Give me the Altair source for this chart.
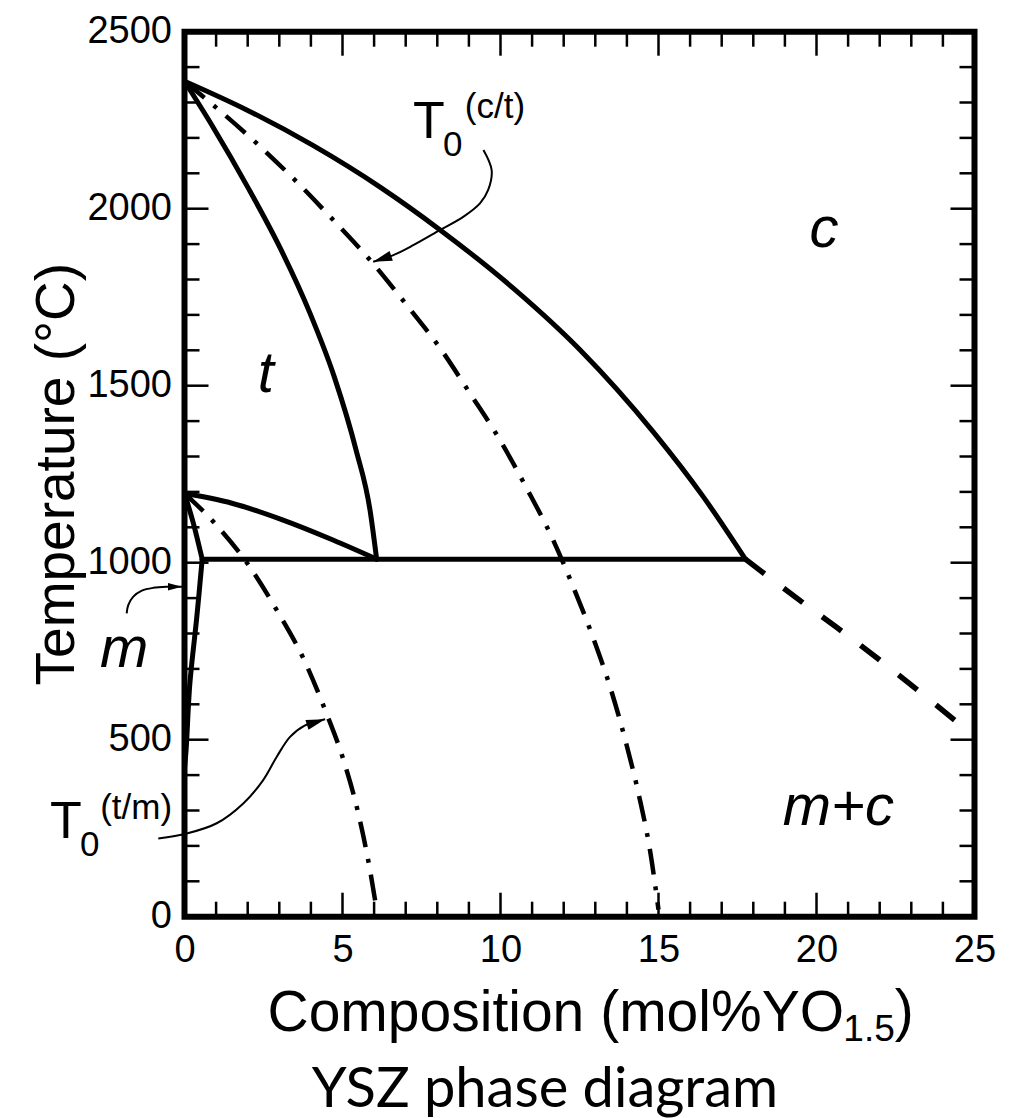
import math
import altair as alt
import pandas as pd

# ---------------- data ----------------
X_LABELS = [0, 5, 10, 15, 20, 25]
T_LABELS = [0, 500, 1000, 1500, 2000, 2500]
X_MAJOR = [5, 10, 15, 20]
X_MINOR = [1, 2, 3, 4, 6, 7, 8, 9, 11, 12, 13, 14, 16, 17, 18, 19, 21, 22, 23, 24]
T_MAJOR = [500, 1000, 1500, 2000]
T_MINOR = [100, 200, 300, 400, 600, 700, 800, 900, 1100, 1200, 1300, 1400,
           1600, 1700, 1800, 1900, 2100, 2200, 2300, 2400]

# c / (t+c) boundary
OUTER_X = [0.0, 1.97, 4.08, 6.19, 8.09, 10.41, 12.52, 14.84, 16.42, 17.75]
OUTER_T = [2360, 2279, 2178, 2061, 1940, 1775, 1601, 1369, 1186, 1010]
# t / (t+c) boundary
INNER_X = [0.0, 0.90, 2.00, 3.01, 3.97, 4.74, 5.43, 5.87, 6.08]
INNER_T = [2360, 2231, 2061, 1892, 1705, 1525, 1318, 1149, 1010]
# t / (m+t) upper boundary
TM_X = [0.0, 1.5, 3.1, 4.7, 6.08]
TM_T = [1196, 1168, 1121, 1064, 1010]
# eutectoid horizontal
EUT_X = [0.56, 17.75]
EUT_T = [1010, 1010]
# monoclinic boundary (upper and lower parts)
MUP_X = [0.0, 0.3, 0.56]
MUP_T = [1196, 1105, 1010]
MLOW_X = [0.56, 0.39, 0.17, 0.05, 0.0]
MLOW_T = [1010, 847, 659, 471, 420]
# m / (m+c) dashed extrapolation
DASH_X = [17.75, 19.6, 20.75, 22.0, 23.2, 24.5]
DASH_T = [1010, 885, 810, 725, 640, 546]
# T0 lines (dash-dot)
T0CT_X = [0.0, 2.28, 3.55, 4.76, 5.92, 7.03, 8.09, 9.03, 9.98, 10.83, 11.62,
          12.30, 12.94, 13.50, 13.97, 14.39, 14.73, 15.0]
T0CT_T = [2360, 2185, 2076, 1963, 1850, 1728, 1606, 1479, 1347, 1210, 1073,
          932, 786, 640, 492, 339, 188, 20]
T0TM_X = [0.0, 0.91, 2.02, 2.92, 3.76, 4.45, 5.03, 5.50, 5.87, 6.08]
T0TM_T = [1196, 1116, 994, 866, 730, 584, 443, 292, 132, 20]

# annotation arrows
ARROW_CT_X = [9.46, 9.72, 9.61, 9.35, 8.82, 8.09, 7.24, 6.61, 5.97]
ARROW_CT_T = [2166, 2109, 2053, 2015, 1977, 1940, 1897, 1869, 1850]
ARROW_M_X = [-1.83, -1.78, -1.62, -1.35, -0.99, -0.56, -0.08]
ARROW_M_T = [857, 880, 904, 921, 929, 932, 932]
ARROW_TM_X = [-0.83, 0.07, 1.02, 1.86, 2.49, 2.92, 3.34, 3.80, 4.45]
ARROW_TM_T = [221, 235, 264, 320, 386, 452, 508, 540, 558]

# text labels
PHASE_TEXT = ["t", "c", "m", "m+c"]
PHASE_X = [2.57, 20.24, -1.91, 20.69]
PHASE_T = [1483, 1893, 706, 259]
T0_MAIN_TEXT = ["T", "T"]
T0_MAIN_X = [7.23, -4.26]
T0_MAIN_T = [2200, 221]
T0_SMALL_TEXT = ["0", "(c/t)", "0", "(t/m)"]
T0_SMALL_X = [8.18, 8.87, -3.31, -2.67]
T0_SMALL_T = [2149, 2255, 171, 277]
# tail of the x-axis title: subscript "1.5" and closing parenthesis
XT_SUB_TEXT = ["1.5"]
XT_SUB_X = [20.85]
XT_SUB_T = [-350]
XT_END_TEXT = [")"]
XT_END_X = [22.48]
XT_END_T = [-321]

CAPTION = "YSZ phase diagram"
X_TITLE = "Composition (mol%YO"
Y_TITLE = "Temperature (\u00b0C)"

# ---------------- chart ----------------
W, H = 790, 885
FONT = "Liberation Sans"
XS = alt.Scale(domain=[0, 25], nice=False, zero=False)
YS = alt.Scale(domain=[0, 2500], nice=False, zero=False)

XA = alt.Axis(values=X_LABELS, title=X_TITLE, grid=False, domain=False,
              ticks=False, tickSize=0, labelFont=FONT, labelFontSize=38,
              labelColor="black", labelPadding=15, labelFlush=False,
              labelOverlap=False, labelAngle=0, format="d",
              titleFont=FONT, titleFontSize=57, titleFontWeight="normal",
              titleColor="black", titleX=82.5, titleY=113.8,
              titleAlign="left", titleBaseline="alphabetic", titleAngle=0)
YA = alt.Axis(values=T_LABELS, title=Y_TITLE, grid=False, domain=False,
              ticks=False, tickSize=0, labelFont=FONT, labelFontSize=38,
              labelColor="black", labelPadding=13, labelFlush=False,
              labelOverlap=False, format="d",
              titleFont=FONT, titleFontSize=55,
              titleFontWeight="normal", titleColor="black",
              titleX=-111, titleY=442, titleAlign="center",
              titleBaseline="alphabetic", titleAngle=270)


def X(field="x"):
    return alt.X(f"{field}:Q", scale=XS, axis=XA)


def Y(field="T"):
    return alt.Y(f"{field}:Q", scale=YS, axis=YA)


def curve_df(xs, ts, name):
    return pd.DataFrame({"x": xs, "T": ts, "curve": name, "ord": list(range(len(xs)))})


def line_layer(df, width, dash=None, cap="round", interp="monotone"):
    kw = dict(color="black", strokeWidth=width, interpolate=interp,
              strokeCap=cap, strokeJoin="round")
    if dash:
        kw["strokeDash"] = dash
    return alt.Chart(df).mark_line(**kw).encode(
        x=X(), y=Y(), detail="curve:N", order="ord:Q")


def side_ticks(vals, orient, length):
    df = pd.DataFrame({"v": vals})
    base = alt.Chart(df).mark_rule(color="black", strokeWidth=2.5)
    if orient == "left":
        return base.encode(y=Y("v"), x=alt.value(0), x2=alt.value(length))
    if orient == "right":
        return base.encode(y=Y("v"), x=alt.value(W - length), x2=alt.value(W))
    if orient == "top":
        return base.encode(x=X("v"), y=alt.value(0), y2=alt.value(length))
    return base.encode(x=X("v"), y=alt.value(H - length), y2=alt.value(H))


def text_layer(xs, ts, texts, size, align="left", italic=False):
    df = pd.DataFrame({"x": xs, "T": ts, "label": texts})
    kw = dict(font=FONT, fontSize=size, align=align, baseline="alphabetic", color="black")
    if italic:
        kw["fontStyle"] = "italic"
    return alt.Chart(df).mark_text(**kw).encode(x=X(), y=Y(), text="label:N")


layers = []
solid = pd.concat([
    curve_df(OUTER_X, OUTER_T, "outer"),
    curve_df(INNER_X, INNER_T, "inner"),
    curve_df(TM_X, TM_T, "tm"),
    curve_df(EUT_X, EUT_T, "eut"),
    curve_df(MUP_X, MUP_T, "mup"),
])
layers.append(line_layer(solid, 5))
layers.append(line_layer(curve_df(MLOW_X, MLOW_T, "mlow"), 5, interp="catmull-rom"))
layers.append(line_layer(curve_df(DASH_X, DASH_T, "dash"), 5.5, dash=[24, 24], cap="butt"))
dashdot = pd.concat([curve_df(T0CT_X, T0CT_T, "t0ct"), curve_df(T0TM_X, T0TM_T, "t0tm")])
layers.append(line_layer(dashdot, 4.5, dash=[26, 12, 4, 12], cap="butt"))

# inward ticks on all four sides
for orient in ["left", "right"]:
    layers.append(side_ticks(T_MINOR, orient, 15))
    layers.append(side_ticks(T_MAJOR, orient, 24))
for orient in ["top", "bottom"]:
    layers.append(side_ticks(X_MINOR, orient, 15))
    layers.append(side_ticks(X_MAJOR, orient, 24))

# annotation arrows
arrows = pd.concat([
    curve_df(ARROW_CT_X, ARROW_CT_T, "a_ct"),
    curve_df(ARROW_M_X, ARROW_M_T, "a_m"),
    curve_df(ARROW_TM_X, ARROW_TM_T, "a_tm"),
])
layers.append(line_layer(arrows, 2, cap="butt", interp="catmull-rom"))

HEAD_LEN = {"a_ct": 19, "a_m": 14, "a_tm": 19}
heads = []
for name, xs, ts in [("a_ct", ARROW_CT_X, ARROW_CT_T),
                     ("a_m", ARROW_M_X, ARROW_M_T),
                     ("a_tm", ARROW_TM_X, ARROW_TM_T)]:
    dx = (xs[-1] - xs[-2]) * W / 25.0
    dy = -(ts[-1] - ts[-2]) * H / 2500.0
    ang = math.degrees(math.atan2(dy, dx)) % 360
    heads.append({"x": xs[-1], "T": ts[-1], "angle": ang, "sz": (2 * HEAD_LEN[name]) ** 2})
layers.append(
    alt.Chart(pd.DataFrame(heads)).mark_point(
        shape="M0,0L-1,-0.27L-1,0.27Z", filled=True, color="black", opacity=1, strokeWidth=0
    ).encode(
        x=X(), y=Y(),
        angle=alt.Angle("angle:Q", scale=None),
        size=alt.Size("sz:Q", scale=None),
    )
)

# text labels
layers.append(text_layer(PHASE_X, PHASE_T, PHASE_TEXT, 58, align="center", italic=True))
layers.append(text_layer(T0_MAIN_X, T0_MAIN_T, T0_MAIN_TEXT, 52))
layers.append(text_layer(T0_SMALL_X, T0_SMALL_T, T0_SMALL_TEXT, 35))
layers.append(text_layer(XT_SUB_X, XT_SUB_T, XT_SUB_TEXT, 37))
layers.append(text_layer(XT_END_X, XT_END_T, XT_END_TEXT, 57))

chart = alt.layer(*layers).properties(
    width=W,
    height=H,
    background="white",
    autosize=alt.AutoSizeParams(type="none"),
    padding={"left": 184.5, "top": 31.7, "right": 45.5, "bottom": 201.3},
    title=alt.TitleParams(CAPTION, orient="bottom", anchor="middle", frame="group",
                          font="Lato", fontSize=56, fontWeight="normal", color="black",
                          baseline="alphabetic", offset=59, dx=-34.5),
).configure_view(stroke="black", strokeWidth=6)

chart.save("out.html", embed_options={"renderer": "svg", "actions": False})
